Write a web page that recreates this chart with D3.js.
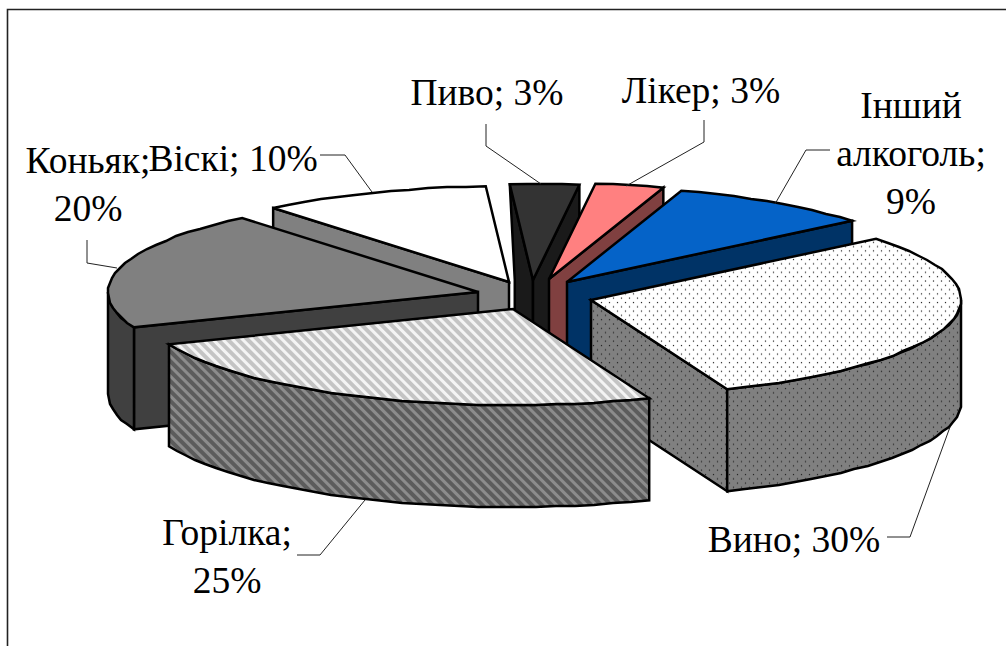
<!DOCTYPE html>
<html>
<head>
<meta charset="utf-8">
<script src="https://cdn.jsdelivr.net/npm/d3@7"></script>
<style>
html, body { margin: 0; padding: 0; background: #fff; }
svg { display: block; }
text { font-family: "Liberation Serif", serif; font-size: 37.5px; fill: #000; }
</style>
</head>
<body>
<svg id="chart" width="1006" height="646"></svg>
<script>
// Alcohol consumption structure, percent of total
const categories = ["Пиво", "Лікер", "Інший алкоголь", "Вино", "Горілка", "Коньяк", "Віскі"];
const shares = [3, 3, 9, 30, 25, 20, 10];

// Label text broken into lines, with the value appended to the last fragment
const labelLines = [
  ["Пиво; 3%"], ["Лікер; 3%"], ["Інший", "алкоголь;", "9%"],
  ["Вино; 30%"], ["Горілка;", "25%"], ["Коньяк;", "20%"], ["Віскі; 10%"]
];
const labelAnchors = [[487, 105], [701, 103], [911, 118], [794, 552], [227, 545], [88, 173], [233, 171]];
const leaderPaths = [
  [[486, 124], [486, 146], [541, 184]],
  [[704, 120], [704, 142], [626, 186]],
  [[830, 150], [806, 150], [775, 204]],
  [[887, 537], [910, 537], [950, 427]],
  [[297, 555], [320, 555], [365, 500]],
  [[87, 240], [87, 263], [117, 268]],
  [[320, 155], [345, 155], [372, 192]]
];

// Pie layout: exploded ellipse seen from above
const pieCentre = [530, 295];
const radiusX = 370, radiusY = 96, depth = 102;
const explodeOffsets = [[3, -15], [19, -16], [37, -13], [61, 5], [-17, 14], [-52, -3], [-21, -13]];
const startDegrees = -3.6;

const topFills = ["#333333", "#ff8080", "#0563c8", "url(#dotsTop)", "url(#stripesTop)", "#808080", "#ffffff"];
const wallFills = ["#1a1a1a", "#804040", "#003366", "url(#dotsWall)", "url(#stripesWall)", "#404040", "#808080"];
// Back-to-front painting order
const paintOrder = [6, 0, 1, 2, 5, 3, 4];

const svg = d3.select("#chart");
const defs = svg.append("defs");

function dotPattern(id, bg) {
  const p = defs.append("pattern").attr("id", id).attr("patternUnits", "userSpaceOnUse")
    .attr("width", 8).attr("height", 8.6);
  p.append("rect").attr("width", 8).attr("height", 8.6).attr("fill", bg);
  [[1.5, 1.5], [5.5, 5.8]].forEach(([x, y]) =>
    p.append("rect").attr("x", x - 0.6).attr("y", y - 0.6).attr("width", 1.2).attr("height", 1.2).attr("fill", "#222"));
}
function stripePattern(id, light, dark) {
  const p = defs.append("pattern").attr("id", id).attr("patternUnits", "userSpaceOnUse")
    .attr("width", 7).attr("height", 7).attr("patternTransform", "rotate(-45)");
  p.append("rect").attr("width", 7).attr("height", 7).attr("fill", dark);
  p.append("rect").attr("width", 3).attr("height", 7).attr("fill", light);
}
dotPattern("dotsTop", "#ffffff");
dotPattern("dotsWall", "#808080");
stripePattern("stripesTop", "#f4f4f4", "#c4c4c4");
stripePattern("stripesWall", "#8c8c8c", "#5c5c5c");

// Outer frame: top and left rules only
svg.append("path").attr("d", "M7.5,646V9.5H1006").attr("fill", "none").attr("stroke", "#222").attr("stroke-width", 1.6);

const pie = d3.pie().sort(null).value(d => d)
  .startAngle(startDegrees * Math.PI / 180)
  .endAngle((startDegrees + 360) * Math.PI / 180);
const arcs = pie(shares);

const scaleX = d3.scaleLinear().domain([-1, 1]).range([-radiusX, radiusX]);
const scaleY = d3.scaleLinear().domain([-1, 1]).range([radiusY, -radiusY]);
const line = d3.line();

// Point on the rim, with the angle measured clockwise from twelve o'clock
const rimPoint = (apex, a) => [apex[0] + scaleX(Math.sin(a)), apex[1] + scaleY(Math.cos(a))];

// Rim outline sampled coarsely and snapped to a pixel grid, as in a metafile export
function rimPoints(apex, a0, a1) {
  const step = 3 * Math.PI / 180;
  const n = Math.max(1, Math.round((a1 - a0) / step));
  return d3.range(n + 1).map(i => {
    const p = rimPoint(apex, a0 + (a1 - a0) * i / n);
    return (i === 0 || i === n) ? p : [Math.round(p[0]), Math.round(p[1])];
  });
}

const slices = svg.append("g").attr("stroke", "#000").attr("stroke-width", 2.5).attr("stroke-linejoin", "miter");

paintOrder.forEach(i => {
  const arc = arcs[i];
  const apex = [pieCentre[0] + explodeOffsets[i][0], pieCentre[1] + explodeOffsets[i][1]];
  const g = slices.append("g");
  const drop = p => [p[0], p[1] + depth];

  // A radial wall shows only when the top face does not lie directly above it
  if (Math.sin(arc.startAngle) < 0) {
    const c = rimPoint(apex, arc.startAngle);
    // The narrow first slice leans inward a little along its left wall
    const outer = i === 0
      ? [c, [c[0] + 5, apex[1]], [c[0] + 5, apex[1] + depth]]
      : [c, drop(c)];
    g.append("path").attr("fill", wallFills[i])
      .attr("d", line([apex, ...outer, drop(apex)]) + "Z");
  }
  if (Math.sin(arc.endAngle) > 0) {
    const c = rimPoint(apex, arc.endAngle);
    g.append("path").attr("fill", wallFills[i])
      .attr("d", line([apex, c, drop(c), drop(apex)]) + "Z");
  }

  // Curved outer wall, only on the part of the rim facing the viewer
  const a0 = Math.max(arc.startAngle, Math.PI / 2);
  const a1 = Math.min(arc.endAngle, 3 * Math.PI / 2);
  if (a1 > a0) {
    const rim = rimPoints(apex, a0, a1);
    g.append("path").attr("fill", wallFills[i])
      .attr("d", line(rim.concat(rim.map(drop).reverse())) + "Z");
  }

  // Top face
  g.append("path").attr("fill", topFills[i])
    .attr("d", line([apex].concat(rimPoints(apex, arc.startAngle, arc.endAngle))) + "Z");
});

// Leader lines
svg.append("g").selectAll("path").data(leaderPaths).join("path")
  .attr("d", d => line(d)).attr("fill", "none").attr("stroke", "#222").attr("stroke-width", 1);

// Labels
const lineHeight = 48;
categories.forEach((name, i) => {
  const t = svg.append("text").attr("text-anchor", "middle")
    .attr("x", labelAnchors[i][0]).attr("y", labelAnchors[i][1]);
  labelLines[i].forEach((s, k) => {
    t.append("tspan").attr("x", labelAnchors[i][0]).attr("dy", k ? lineHeight : 0).text(s);
  });
});
</script>
</body>
</html>
